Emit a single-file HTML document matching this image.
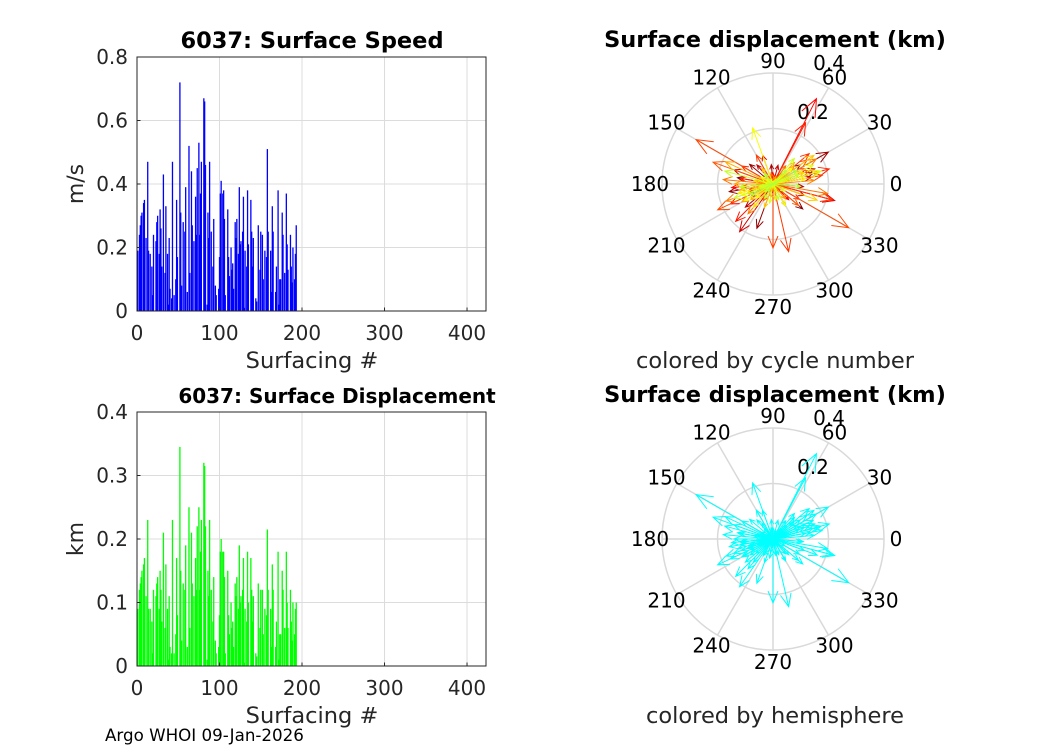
<!DOCTYPE html>
<html><head><meta charset="utf-8"><style>
body{margin:0;background:#fff}
svg{display:block;font-family:"DejaVu Sans","Liberation Sans",sans-serif}
</style></head><body>
<svg id="fig" width="1050" height="750" xmlns="http://www.w3.org/2000/svg">
<rect width="1050" height="750" fill="#fff"/>
</svg>
<script>
const surfacing = [1,3,4,5,6,8,9,10,11,13,14,15,16,18,19,20,21,23,24,
25,27,28,29,30,32,33,34,35,37,38,39,40,42,43,44,45,47,48,
49,51,52,53,54,56,57,58,59,61,62,63,64,66,67,68,69,71,72,
73,75,76,77,78,80,81,82,83,85,86,87,88,90,91,92,93,95,96,
97,99,100,101,102,104,105,106,107,109,110,111,112,114,115,116,117,119,120,
121,123,124,125,126,128,129,130,131,133,134,135,136,138,139,140,141,143,144,
145,147,148,149,150,152,153,154,155,157,158,159,160,162,163,164,165,167,168,
169,171,172,173,174,176,177,178,179,181,182,183,184,186,187,188,189,191,192,193];
const speed = [0.19,0.24,0.27,0.30,0.31,0.34,0.35,0,0.23,0.47,
0.19,0,0.18,0.14,0.05,0.24,0,0.22,0.28,0.30,
0.18,0.32,0.26,0.14,0.43,0,0.12,0.33,0.18,0.02,
0.23,0.07,0.04,0.47,0,0.05,0.10,0.35,0.17,0,
0.72,0.31,0.08,0.28,0,0.25,0.39,0.06,0,0.52,
0.12,0.44,0.27,0,0.22,0.36,0.24,0.45,0.53,0.24,
0.37,0.47,0,0.67,0.66,0.46,0.02,0.31,0.23,0.47,
0.25,0,0.14,0.29,0.08,0.05,0,0.07,0.17,0.37,
0.41,0.37,0.38,0.29,0.05,0,0.32,0.17,0.11,0.20,
0.13,0.15,0.07,0.28,0.23,0.29,0.18,0.39,0.21,0.22,
0.25,0.36,0.01,0.19,0.14,0.38,0.21,0,0.35,0.25,
0.14,0.23,0,0.04,0.03,0.27,0,0.13,0.25,0.24,
0.10,0,0.19,0.17,0.51,0.25,0,0.19,0.06,0.33,
0.25,0,0.06,0.14,0.38,0.02,0.10,0.10,0.31,0.24,
0,0.12,0.37,0.21,0.13,0,0.24,0.14,0.09,0.20,
0.10,0.18,0.27];
const displacement = [0.09,0.12,0.13,0.14,0.15,0.16,0.17,0,0.11,0.23,
0.09,0,0.09,0.07,0.02,0.12,0,0.11,0.13,0.14,
0.09,0.15,0.12,0.07,0.21,0,0.06,0.16,0.09,0.01,
0.11,0.03,0.02,0.23,0,0.02,0.05,0.17,0.08,0,
0.345,0.15,0.04,0.13,0,0.12,0.19,0.03,0,0.25,
0.06,0.21,0.13,0,0.11,0.17,0.12,0.22,0.25,0.12,
0.18,0.23,0,0.32,0.315,0.22,0.01,0.15,0.11,0.23,
0.12,0,0.07,0.14,0.04,0.02,0,0.03,0.08,0.18,
0.20,0.18,0.18,0.14,0.02,0,0.15,0.08,0.05,0.10,
0.06,0.07,0.03,0.13,0.11,0.14,0.09,0.19,0.10,0.11,
0.12,0.17,0.005,0.09,0.07,0.18,0.10,0,0.17,0.12,
0.07,0.11,0,0.02,0.015,0.13,0,0.06,0.12,0.12,
0.05,0,0.09,0.08,0.215,0.12,0,0.09,0.03,0.16,
0.12,0,0.03,0.07,0.18,0.01,0.05,0.05,0.15,0.12,
0,0.06,0.18,0.10,0.06,0,0.12,0.07,0.04,0.10,
0.05,0.09,0.10];
const direction = [200,35,170,320,15,190,250,80,140,30,
210,0,300,95,45,185,0,355,220,10,
130,160,340,75,235,0,280,20,195,60,
110,265,30,345,0,175,50,205,315,0,
63,185,90,25,0,170,225,305,0,62,
200,15,150,0,330,40,190,345,283,120,
10,270,0,150,330,205,80,35,185,160,
320,0,240,20,100,290,0,215,55,175,
350,200,30,230,140,0,5,195,260,40,
165,310,70,210,25,180,300,155,215,45,
190,15,90,250,125,35,200,0,340,20,
170,230,0,60,120,195,0,280,10,185,
150,0,40,220,110,200,0,300,170,25,
210,0,140,260,15,80,190,330,200,50,
0,240,165,20,290,0,185,45,225,355,
130,205,30];
const xTicks = [0,100,200,300,400];
const speedTicks = [0,0.2,0.4,0.6,0.8];
const dispTicks = [0,0.1,0.2,0.3,0.4];
const angleTicks = [0,30,60,90,120,150,180,210,240,270,300,330];

const NS = "http://www.w3.org/2000/svg";
const svg = document.getElementById('fig');
function mk(tag, attrs, parent){const e=document.createElementNS(NS,tag);for(const k in attrs)e.setAttribute(k,attrs[k]);(parent||svg).appendChild(e);return e;}
function txt(s, attrs, parent){const e=mk('text',attrs,parent);e.textContent=s;return e;}

function barChart(cfg){
  const g = mk('g',{});
  
  
  const L=137,R=486,T=cfg.top,B=cfg.top+254,xmax=423;
  const xs=v=>L+v/xmax*(R-L);
  const ys=v=>B-v/cfg.ymax*(B-T);
  xTicks.forEach(t=>{const l=mk('line',{x1:xs(t),x2:xs(t),y1:T,y2:B,stroke:'#dcdcdc','stroke-width':1},g);
    });
  cfg.ticks.forEach(t=>{const l=mk('line',{x1:L,x2:R,y1:ys(t),y2:ys(t),stroke:'#dcdcdc','stroke-width':1},g);
    });
  const bw=1.3;
  cfg.values.forEach((v,i)=>{if(v<=0)return;
    const r=mk('rect',{x:xs(surfacing[i])-bw/2,y:ys(v),width:bw,height:B-ys(v),fill:cfg.color},g);
    });
  const box=mk('rect',{x:L,y:T,width:R-L,height:B-T,fill:'none',stroke:'#262626','stroke-width':1},g);
  
  xTicks.forEach(t=>{mk('line',{x1:xs(t),x2:xs(t),y1:B,y2:B-3.5,stroke:'#262626'},g);
    const l=txt(String(t),{x:xs(t),y:B+29,'font-size':20,'text-anchor':'middle',fill:'#262626'},g);
    });
  cfg.ticks.forEach(t=>{mk('line',{x1:L,x2:L+3.5,y1:ys(t),y2:ys(t),stroke:'#262626'},g);
    const l=txt(String(t),{x:L-9,y:ys(t)+7,'font-size':20,'text-anchor':'end',fill:'#262626'},g);
    });
  const ti=txt(cfg.title,{x:cfg.titleX,y:T-9,'font-size':cfg.titleSize,'font-weight':'bold','text-anchor':'middle',fill:'#000'},g);
  
  const xl=txt('Surfacing #',{x:312,y:B+57,'font-size':22.5,'text-anchor':'middle',fill:'#262626'},g);
  
  const yl=txt(cfg.ylabel,{x:0,y:0,'font-size':22,'text-anchor':'middle',fill:'#262626',transform:`translate(83,${(T+B)/2}) rotate(-90)`},g);
  
}
barChart({name:'surface-speed-chart',top:57,ymax:0.8,ticks:speedTicks,values:speed,color:'#0000ff',title:'6037: Surface Speed',titleX:312,titleSize:22.5,ylabel:'m/s'});
barChart({name:'surface-displacement-chart',top:412,ymax:0.4,ticks:dispTicks,values:displacement,color:'#00ff00',title:'6037: Surface Displacement',titleX:337,titleSize:20,ylabel:'km'});

function cmap(t){
  const s=[[0,128,0,0],[0.25,255,0,0],[0.55,255,128,0],[0.8,255,255,0],[1,170,255,60]];
  for(let k=1;k<s.length;k++){if(t<=s[k][0]){const a=s[k-1],b=s[k],f=(t-a[0])/(b[0]-a[0]);
    return `rgb(${Math.round(a[1]+f*(b[1]-a[1]))},${Math.round(a[2]+f*(b[2]-a[2]))},${Math.round(a[3]+f*(b[3]-a[3]))})`;}}
  return 'rgb(170,255,60)';
}
function polar(cfg){
  const g=mk('g',{});
  
  
  const cx=773,cy=cfg.cy,R=111,rmax=0.4;
  [0.2,0.4].forEach(r=>{const c=mk('circle',{cx,cy,r:r/rmax*R,fill:'none',stroke:'#d9d9d9','stroke-width':1.5},g);
    });
  angleTicks.forEach(a=>{const rad=a*Math.PI/180;
    const l=mk('line',{x1:cx,y1:cy,x2:cx+R*Math.cos(rad),y2:cy-R*Math.sin(rad),stroke:'#d9d9d9','stroke-width':1.5},g);
    
    const t=txt(String(a),{x:cx+123*Math.cos(rad),y:cy-123*Math.sin(rad)+7,'font-size':20,'text-anchor':'middle',fill:'#000'},g);
    });
  const r1=txt('0.4',{x:829,y:cy-114,'font-size':20,'text-anchor':'middle',fill:'#000'},g);
  
  const r2=txt('0.2',{x:813,y:cy-65,'font-size':20,'text-anchor':'middle',fill:'#000'},g);
  
  const n=displacement.length;
  displacement.forEach((v,i)=>{if(v<=0)return;
    const rad=direction[i]*Math.PI/180,L=v/rmax*R;
    const x=cx+L*Math.cos(rad),y=cy-L*Math.sin(rad);
    const col=cfg.colored?cmap(i/(n-1)):'#00ffff';
    const h=Math.max(L*0.2,5),w=0.4;
    const hx1=x-h*Math.cos(rad-w),hy1=y+h*Math.sin(rad-w);
    const hx2=x-h*Math.cos(rad+w),hy2=y+h*Math.sin(rad+w);
    const p=mk('path',{d:`M${cx},${cy}L${x},${y}M${hx1},${hy1}L${x},${y}L${hx2},${hy2}`,stroke:col,fill:'none','stroke-width':1},g);
    });
  const ti=txt('Surface displacement (km)',{x:775,y:cy-137,'font-size':22.5,'font-weight':'bold','text-anchor':'middle',fill:'#000'},g);
  
  const cap=txt(cfg.caption,{x:775,y:cy+184,'font-size':22.5,'text-anchor':'middle',fill:'#262626'},g);
  
}
polar({name:'displacement-compass-cycle',cy:184,colored:true,caption:'colored by cycle number'});
polar({name:'displacement-compass-hemisphere',cy:539,colored:false,caption:'colored by hemisphere'});

const f=txt('Argo WHOI 09-Jan-2026',{x:105,y:741,'font-size':16.7,fill:'#000'});


</script>
</body></html>
